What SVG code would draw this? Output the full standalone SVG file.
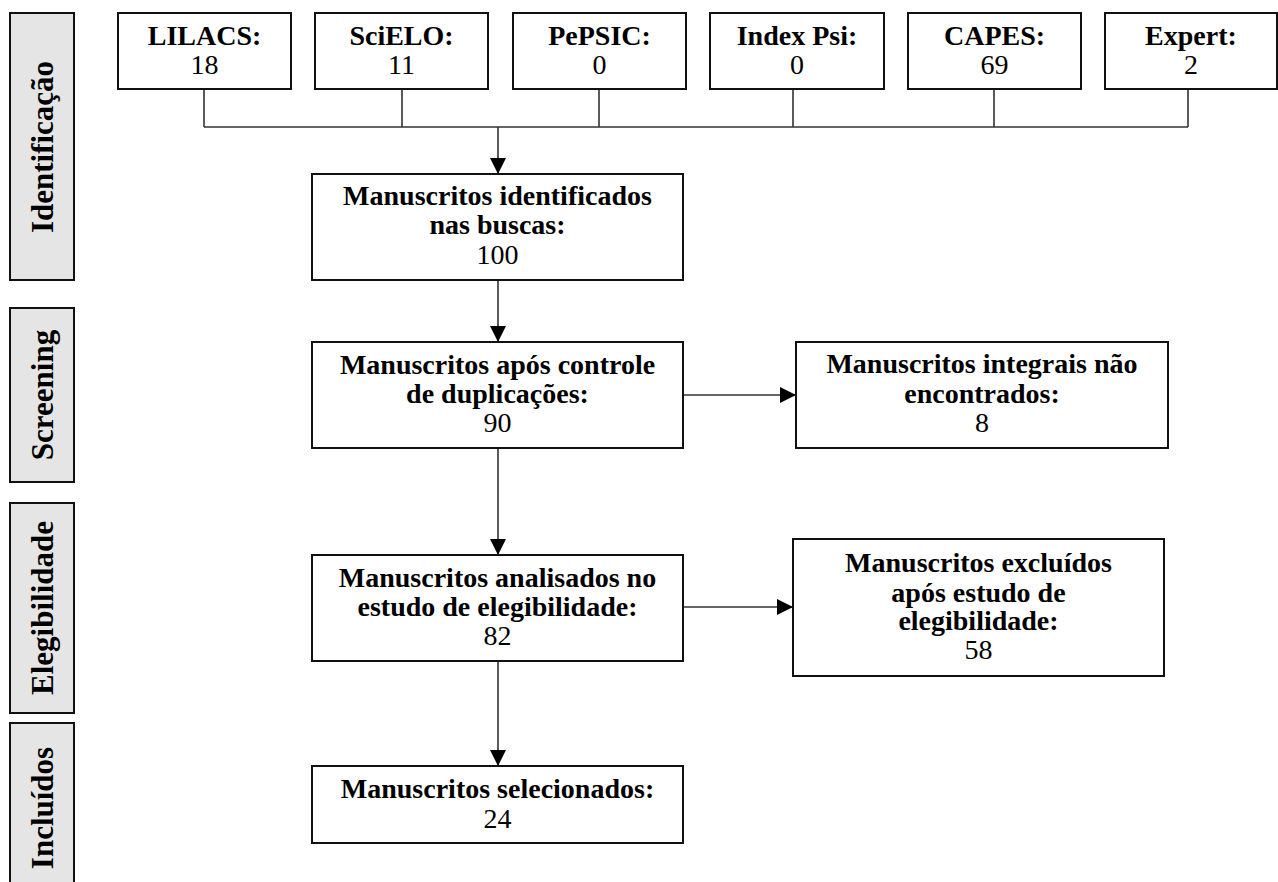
<svg xmlns="http://www.w3.org/2000/svg" width="1278" height="882" viewBox="0 0 1278 882">
<style>
  .bg{fill:#ffffff}
  .side rect{fill:#e5e5e5;stroke:#111;stroke-width:2}
  .side text{font-family:"Liberation Serif","Times New Roman",serif;font-weight:bold;font-size:31px;fill:#000;text-anchor:middle}
  .node rect{fill:#fff;stroke:#111;stroke-width:2}
  .node text{font-family:"Liberation Serif","Times New Roman",serif;font-size:28px;fill:#000;text-anchor:middle}
  .node .b{font-weight:bold}
  .conn path{fill:none;stroke:#333;stroke-width:1.6}
</style>
<defs>
  <marker id="arr" viewBox="0 0 10 10" refX="10" refY="5" markerWidth="16" markerHeight="16" markerUnits="userSpaceOnUse" orient="auto">
    <path d="M0,0 L10,5 L0,10 Z" fill="#000"/>
  </marker>
</defs>
<rect class="bg" x="0" y="0" width="1278" height="882"/>

<g id="side-identificacao" class="side">
  <rect x="10" y="13" width="64" height="267"/>
  <text transform="translate(53,147) rotate(-90)">Identificação</text>
</g>
<g id="side-screening" class="side">
  <rect x="10" y="308" width="64" height="174"/>
  <text transform="translate(53,395) rotate(-90)">Screening</text>
</g>
<g id="side-elegibilidade" class="side">
  <rect x="10" y="503" width="64" height="210"/>
  <text transform="translate(53,608) rotate(-90)">Elegibilidade</text>
</g>
<g id="side-incluidos" class="side">
  <rect x="10" y="723" width="64" height="175"/>
  <text transform="translate(53,808) rotate(-90)">Incluídos</text>
</g>

<g id="connectors" class="conn">
  <path d="M204,89 V127 M402,89 V127 M599,89 V127 M793,89 V127 M994,89 V127 M1188,89 V127 M204,127 H1188"/>
  <path d="M498,127 V174" marker-end="url(#arr)"/>
  <path d="M498,280 V342" marker-end="url(#arr)"/>
  <path d="M498,448 V555" marker-end="url(#arr)"/>
  <path d="M498,661 V766" marker-end="url(#arr)"/>
  <path d="M683,395 H796" marker-end="url(#arr)"/>
  <path d="M683,607 H793" marker-end="url(#arr)"/>
</g>

<g id="lilacs" class="node">
  <rect x="118" y="13" width="173" height="76"/>
  <text class="b" x="204.5" y="45">LILACS:</text>
  <text x="204.5" y="74">18</text>
</g>
<g id="scielo" class="node">
  <rect x="315" y="13" width="173" height="76"/>
  <text class="b" x="401.5" y="45">SciELO:</text>
  <text x="401.5" y="74">11</text>
</g>
<g id="pepsic" class="node">
  <rect x="513" y="13" width="173" height="76"/>
  <text class="b" x="599.5" y="45">PePSIC:</text>
  <text x="599.5" y="74">0</text>
</g>
<g id="indexpsi" class="node">
  <rect x="710" y="13" width="174" height="76"/>
  <text class="b" x="797" y="45">Index Psi:</text>
  <text x="797" y="74">0</text>
</g>
<g id="capes" class="node">
  <rect x="908" y="13" width="173" height="76"/>
  <text class="b" x="994.5" y="45">CAPES:</text>
  <text x="994.5" y="74">69</text>
</g>
<g id="expert" class="node">
  <rect x="1105" y="13" width="172" height="76"/>
  <text class="b" x="1191" y="45">Expert:</text>
  <text x="1191" y="74">2</text>
</g>

<g id="identificados" class="node">
  <rect x="312" y="174" width="371" height="106"/>
  <text class="b" x="497.5" y="205">Manuscritos identificados</text>
  <text class="b" x="497.5" y="234">nas buscas:</text>
  <text x="497.5" y="264">100</text>
</g>
<g id="duplicacoes" class="node">
  <rect x="312" y="342" width="371" height="106"/>
  <text class="b" x="497.5" y="374">Manuscritos após controle</text>
  <text class="b" x="497.5" y="403">de duplicações:</text>
  <text x="497.5" y="432">90</text>
</g>
<g id="nao-encontrados" class="node">
  <rect x="796" y="342" width="372" height="106"/>
  <text class="b" x="982" y="373">Manuscritos integrais não</text>
  <text class="b" x="982" y="403">encontrados:</text>
  <text x="982" y="432">8</text>
</g>
<g id="analisados" class="node">
  <rect x="312" y="555" width="371" height="106"/>
  <text class="b" x="497.5" y="587">Manuscritos analisados no</text>
  <text class="b" x="497.5" y="616">estudo de elegibilidade:</text>
  <text x="497.5" y="645">82</text>
</g>
<g id="excluidos" class="node">
  <rect x="793" y="539" width="371" height="137"/>
  <text class="b" x="978.5" y="572">Manuscritos excluídos</text>
  <text class="b" x="978.5" y="602">após estudo de</text>
  <text class="b" x="978.5" y="630">elegibilidade:</text>
  <text x="978.5" y="659">58</text>
</g>
<g id="selecionados" class="node">
  <rect x="312" y="766" width="371" height="77"/>
  <text class="b" x="497.5" y="798">Manuscritos selecionados:</text>
  <text x="497.5" y="828">24</text>
</g>
</svg>
